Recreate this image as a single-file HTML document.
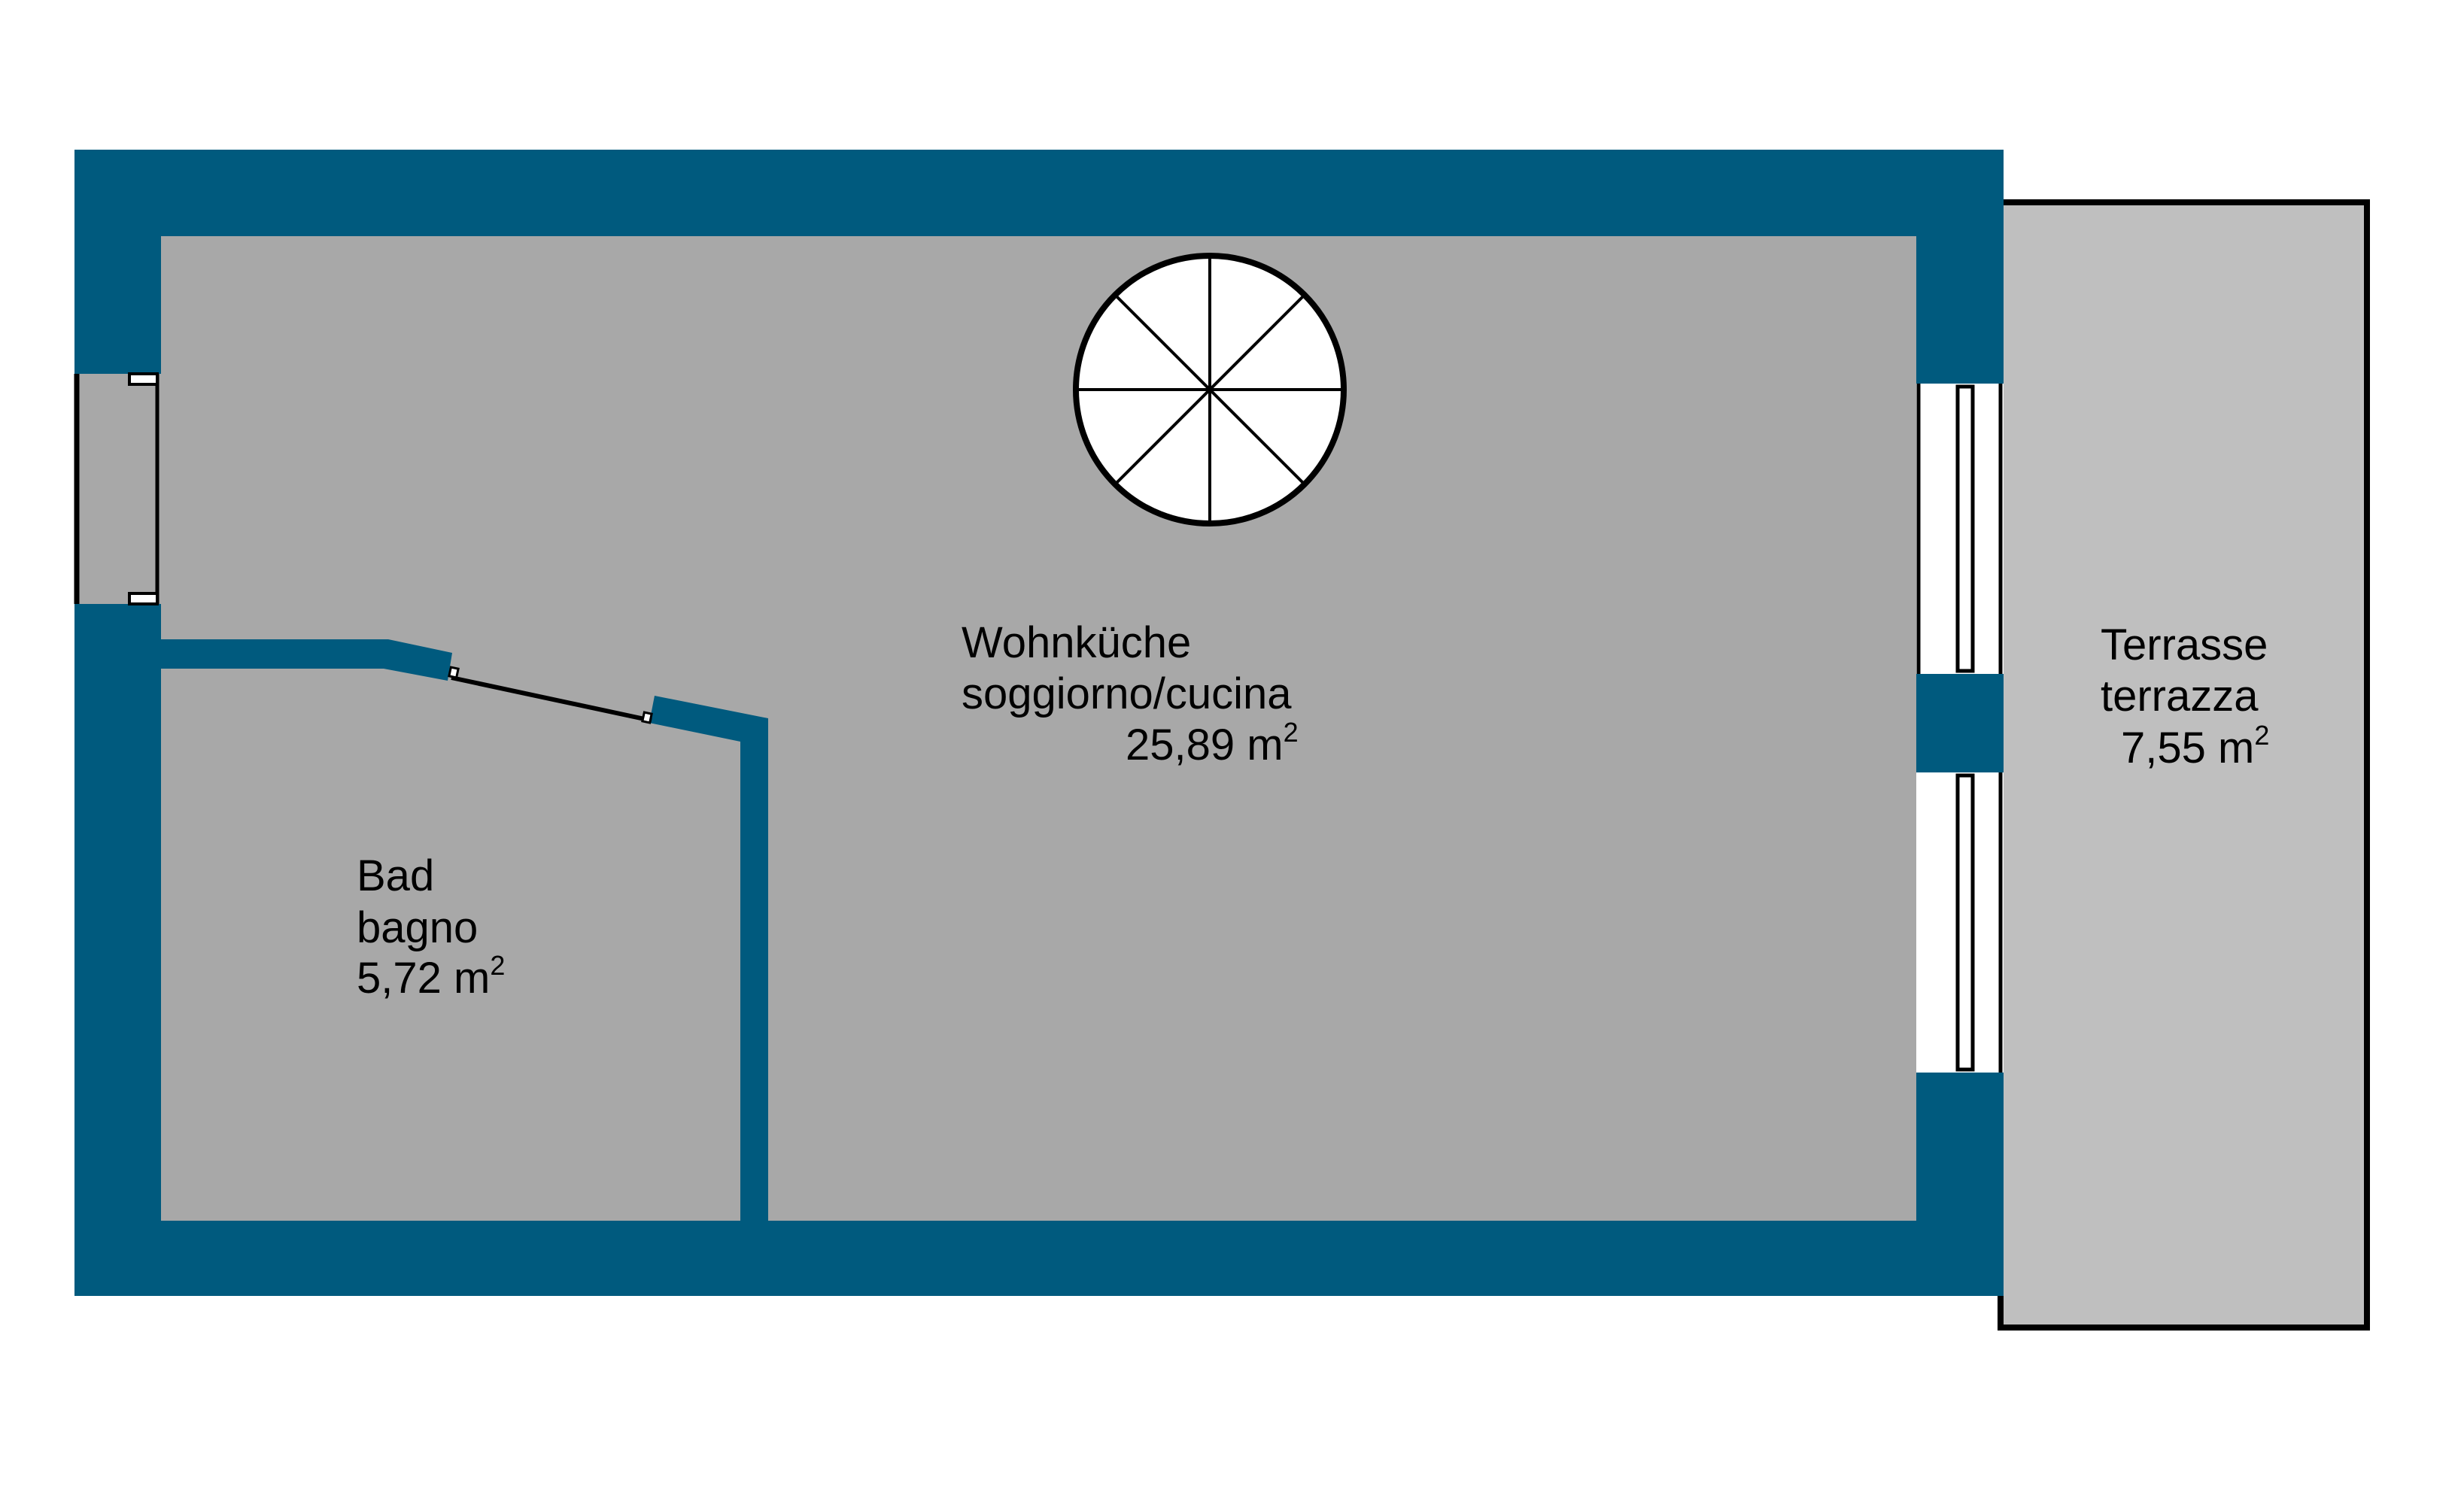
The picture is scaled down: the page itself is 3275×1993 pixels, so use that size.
<!DOCTYPE html>
<html><head><meta charset="utf-8"><style>html,body{margin:0;padding:0;background:#fff}svg{display:block}</style></head>
<body>
<svg width="3275" height="1993" viewBox="0 0 3275 1993" xmlns="http://www.w3.org/2000/svg" font-family="Liberation Sans, Arial, sans-serif">
<rect x="0" y="0" width="3275" height="1993" fill="#fff"/>
<!-- terrace -->
<rect x="2659" y="269" width="487" height="1496" fill="#bfbfbf" stroke="#000" stroke-width="8"/>
<!-- walls -->
<rect x="99" y="199" width="2564" height="1524" fill="#005a7e"/>
<rect x="214" y="314" width="2333" height="1309" fill="#a8a8a8"/>
<!-- left window -->
<rect x="99" y="497" width="115" height="306" fill="#a8a8a8"/>
<line x1="102" y1="497" x2="102" y2="803" stroke="#000" stroke-width="7"/>
<line x1="209" y1="497" x2="209" y2="803" stroke="#000" stroke-width="5"/>
<rect x="172" y="497" width="37" height="14" fill="#fff" stroke="#000" stroke-width="4"/>
<rect x="172" y="789" width="37" height="14" fill="#fff" stroke="#000" stroke-width="4"/>
<!-- right windows -->
<rect x="2547" y="510" width="116" height="386" fill="#fff"/>
<line x1="2550" y1="510" x2="2550" y2="896" stroke="#000" stroke-width="5"/>
<line x1="2659" y1="510" x2="2659" y2="896" stroke="#000" stroke-width="5"/>
<rect x="2602" y="514" width="20" height="378" fill="#fff" stroke="#000" stroke-width="5"/>
<rect x="2547" y="1027" width="116" height="399" fill="#fff"/>
<line x1="2659" y1="1027" x2="2659" y2="1426" stroke="#000" stroke-width="5"/>
<rect x="2602" y="1031" width="20" height="391" fill="#fff" stroke="#000" stroke-width="5"/>
<!-- bath walls -->
<polygon points="214,850 516,850 601,868 595,905 510,889 214,889" fill="#005a7e"/>
<polygon points="870,925 1021,955 1021,1623 984,1623 984,986 863,961" fill="#005a7e"/>
<line x1="600" y1="901" x2="866" y2="958" stroke="#000" stroke-width="6"/>
<rect x="598" y="888" width="10" height="12" fill="#fff" stroke="#000" stroke-width="3" transform="rotate(12 603 894)"/>
<rect x="855" y="948" width="10" height="12" fill="#fff" stroke="#000" stroke-width="3" transform="rotate(12 860 954)"/>
<!-- spiral stair -->
<circle cx="1608" cy="518" r="178" fill="#fff" stroke="#000" stroke-width="8"/>
<g stroke="#000" stroke-width="4">
<line x1="1608" y1="340" x2="1608" y2="696"/>
<line x1="1430" y1="518" x2="1786" y2="518"/>
<line x1="1482" y1="392" x2="1734" y2="644"/>
<line x1="1734" y1="392" x2="1482" y2="644"/>
</g>
<!-- labels -->
<g font-size="58" fill="#000">
<text x="1278" y="874">Wohnküche</text>
<text x="1278" y="942">soggiorno/cucina</text>
<text x="1496" y="1010">25,89 m<tspan font-size="36" dy="-24">2</tspan></text>
<text x="474" y="1184">Bad</text>
<text x="474" y="1253">bagno</text>
<text x="474" y="1320">5,72 m<tspan font-size="36" dy="-24">2</tspan></text>
<text x="2792" y="877">Terrasse</text>
<text x="2792" y="945">terrazza</text>
<text x="2819" y="1014">7,55 m<tspan font-size="36" dy="-24">2</tspan></text>
</g>
</svg>
</body></html>
